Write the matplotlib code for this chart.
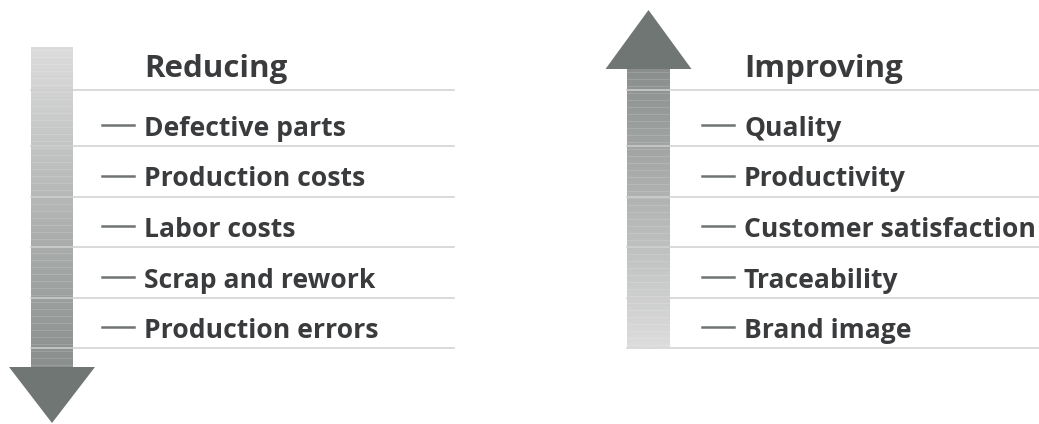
import numpy as np
import matplotlib.pyplot as plt
from matplotlib.patches import Polygon
from matplotlib.colors import LinearSegmentedColormap

# contenido
titulo_izq = "Reducing"
items_izq = ["Defective parts", "Production costs", "Labor costs",
             "Scrap and rework", "Production errors"]
titulo_der = "Improving"
items_der = ["Quality", "Productivity", "Customer satisfaction",
             "Traceability", "Brand image"]

W, H = 1039, 424
fig = plt.figure(figsize=(W / 100, H / 100), dpi=100)
ax = fig.add_axes([0, 0, 1, 1])
ax.set_xlim(0, W)
ax.set_ylim(H, 0)
ax.axis('off')

texto = '#3a3b3d'
gris_linea = '#cfcfcf'
gris_flecha = '#707673'
fuente = 'Open Sans'
cmap = LinearSegmentedColormap.from_list('g', ['#dcdcdc', '#8a8f8d'])

y_cab = 90      # linea bajo el titulo
paso = 50.5
y0_item = 146


def panel(x_eje, x_eje2, x_fin, titulo, items, hacia_abajo, dx):
    # fuste con degradado
    if hacia_abajo:
        y_top, y_bot = 47, 367
        grad = np.linspace(0, 1, 200)[:, None]
    else:
        y_top, y_bot = 69, 347
        grad = np.linspace(1, 0, 200)[:, None]
    ax.imshow(grad, cmap=cmap, aspect='auto', extent=[x_eje, x_eje2, y_bot, y_top],
              zorder=1, interpolation='bilinear')
    # rayas finas
    for yy in np.arange(y_top + 3, y_bot, 7):
        ax.plot([x_eje, x_eje2], [yy, yy], color='white', lw=0.4, alpha=0.25, zorder=2)
    # punta
    cx = (x_eje + x_eje2) / 2
    if hacia_abajo:
        pts = [(cx - 43, y_bot), (cx + 43, y_bot), (cx, y_bot + 56)]
    else:
        pts = [(cx - 43, y_top), (cx + 43, y_top), (cx, y_top - 59)]
    ax.add_patch(Polygon(pts, closed=True, color=gris_flecha, lw=0, zorder=3))

    # titulo
    ax.text(x_eje2 + 71 + dx, y_cab - 13, titulo, fontsize=22.5, fontweight='bold',
            family=fuente, color=texto, va='baseline', zorder=4)
    ys = [y_cab] + [y0_item + i * paso for i in range(len(items))]
    for y in ys:
        ax.plot([x_eje, x_fin], [y, y], color=gris_linea, lw=1.1, zorder=2.5)
    for i, it in enumerate(items):
        yb = ys[i + 1] - 10
        yc = yb - 11
        ax.plot([x_eje2 + 29 + dx, x_eje2 + 61 + dx], [yc, yc], color='#6f7471',
                lw=1.8, zorder=4)
        ax.text(x_eje2 + 71 + dx, yb, it, fontsize=19.1, fontweight='bold', family=fuente,
                color=texto, va='baseline', zorder=4)


panel(31, 73, 454, titulo_izq, items_izq, True, 0)
panel(627, 670, 1039, titulo_der, items_der, False, 3)

fig.savefig('out.png', dpi=100)
